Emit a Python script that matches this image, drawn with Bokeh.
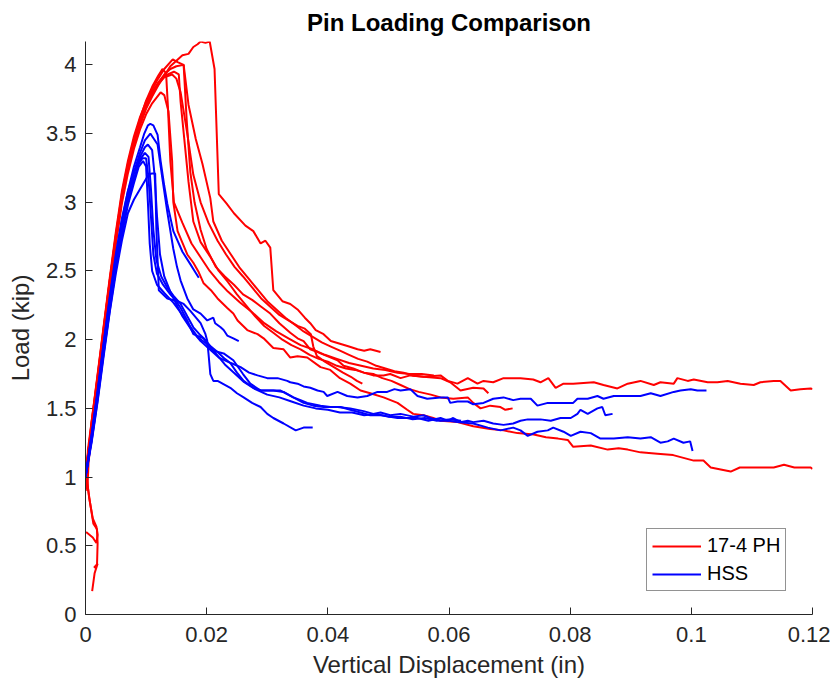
from bokeh.plotting import figure
from bokeh.models import Range1d, FixedTicker, Legend, LegendItem
from bokeh.embed import file_html
from bokeh.resources import INLINE

# ---------------- data ----------------
title_text = "Pin Loading Comparison"
x_label = "Vertical Displacement (in)"
y_label = "Load (kip)"
series_names = ["17-4 PH", "HSS"]

x_ticks = [0, 0.02, 0.04, 0.06, 0.08, 0.1, 0.12]
x_tick_labels = ["0", "0.02", "0.04", "0.06", "0.08", "0.1", "0.12"]
y_ticks = [0, 0.5, 1, 1.5, 2, 2.5, 3, 3.5, 4]
y_tick_labels = ["0", "0.5", "1", "1.5", "2", "2.5", "3", "3.5", "4"]

# 17-4 PH specimens (x in, load kip)
r1 = [(0.0, 1.00), (0.001, 1.36), (0.002, 1.70), (0.003, 2.05), (0.004, 2.40), (0.005, 2.72),
      (0.006, 3.02), (0.007, 3.24), (0.008, 3.42), (0.009, 3.56), (0.010, 3.68), (0.011, 3.77),
      (0.012, 3.85), (0.013, 3.92), (0.014, 3.99), (0.015, 4.03), (0.016, 4.07), (0.017, 4.08),
      (0.0178, 4.13), (0.0185, 4.15), (0.019, 4.17), (0.0198, 4.16), (0.0205, 4.17), (0.0213, 3.97),
      (0.0220, 3.06), (0.0233, 2.99), (0.0245, 2.92), (0.0264, 2.83), (0.0277, 2.79), (0.0289, 2.70),
      (0.0297, 2.72), (0.0305, 2.67), (0.0310, 2.36), (0.0325, 2.28), (0.0338, 2.26), (0.0350, 2.22),
      (0.0362, 2.16), (0.0371, 2.12), (0.0380, 2.07), (0.0393, 2.04), (0.0405, 1.99), (0.0420, 1.97),
      (0.0435, 1.95), (0.0449, 1.93), (0.0460, 1.92), (0.0470, 1.93), (0.0487, 1.91)]

r2 = [(0.0, 1.00), (0.001, 1.40), (0.002, 1.75), (0.003, 2.10), (0.004, 2.45), (0.005, 2.78),
      (0.006, 3.08), (0.007, 3.30), (0.008, 3.48), (0.009, 3.62), (0.010, 3.73), (0.011, 3.82),
      (0.012, 3.90), (0.013, 3.97), (0.0144, 4.04), (0.0152, 4.02), (0.0162, 4.00), (0.0167, 3.60),
      (0.0173, 3.22), (0.0180, 3.00), (0.0190, 2.80), (0.0200, 2.66), (0.0215, 2.53), (0.0230, 2.46),
      (0.0245, 2.40), (0.0260, 2.33), (0.0275, 2.29), (0.0290, 2.24), (0.0305, 2.19), (0.0320, 2.12),
      (0.0338, 2.05), (0.0350, 2.01), (0.0360, 1.99), (0.0371, 1.93), (0.0383, 1.91), (0.0399, 1.88),
      (0.0416, 1.85), (0.0426, 1.81), (0.0442, 1.79), (0.0459, 1.76), (0.0475, 1.74), (0.0492, 1.74),
      (0.0503, 1.75), (0.0520, 1.72), (0.0536, 1.74), (0.0558, 1.73), (0.0586, 1.74), (0.0598, 1.70),
      (0.0614, 1.68), (0.0631, 1.72), (0.0647, 1.68), (0.0657, 1.70), (0.0673, 1.69), (0.0690, 1.72),
      (0.0706, 1.72), (0.0718, 1.72), (0.0739, 1.71), (0.0751, 1.69), (0.0764, 1.72), (0.0776, 1.65),
      (0.0789, 1.68), (0.0805, 1.68), (0.0839, 1.69), (0.0855, 1.67), (0.0878, 1.645), (0.0895, 1.68),
      (0.0916, 1.70), (0.0938, 1.67), (0.0949, 1.69), (0.0971, 1.68), (0.0977, 1.72), (0.0994, 1.70),
      (0.1004, 1.71), (0.1027, 1.69), (0.1043, 1.69), (0.1060, 1.70), (0.1081, 1.68), (0.1103, 1.67),
      (0.1114, 1.69), (0.1136, 1.70), (0.1147, 1.70), (0.1164, 1.63), (0.1180, 1.64), (0.1197, 1.645),
      (0.1200, 1.64)]

r3 = [(0.0, 1.00), (0.001, 1.37), (0.002, 1.71), (0.003, 2.06), (0.004, 2.40), (0.005, 2.73),
      (0.006, 3.03), (0.007, 3.26), (0.008, 3.44), (0.009, 3.58), (0.010, 3.70), (0.011, 3.79),
      (0.012, 3.87), (0.013, 3.93), (0.014, 3.97), (0.0150, 3.99), (0.0162, 4.00), (0.0170, 3.71),
      (0.0182, 3.46), (0.0193, 3.28), (0.0206, 3.03), (0.0211, 2.86), (0.0225, 2.72), (0.0240, 2.62),
      (0.0255, 2.52), (0.0270, 2.44), (0.0285, 2.36), (0.0300, 2.28), (0.0315, 2.22), (0.0330, 2.16),
      (0.0345, 2.11), (0.0360, 2.06), (0.0375, 2.02), (0.0390, 1.98), (0.0405, 1.95), (0.0420, 1.92),
      (0.0435, 1.89), (0.0450, 1.86), (0.0465, 1.84), (0.0480, 1.81), (0.0495, 1.79), (0.0510, 1.77),
      (0.0525, 1.76), (0.0540, 1.74), (0.0558, 1.73), (0.0586, 1.72), (0.0602, 1.69), (0.0619, 1.63),
      (0.0640, 1.65), (0.0657, 1.645), (0.0665, 1.61)]

r4 = [(0.0, 1.00), (0.001, 1.39), (0.002, 1.73), (0.003, 2.08), (0.004, 2.43), (0.005, 2.76),
      (0.006, 3.06), (0.007, 3.28), (0.008, 3.46), (0.009, 3.60), (0.010, 3.71), (0.011, 3.80),
      (0.012, 3.87), (0.013, 3.92), (0.0146, 3.95), (0.0154, 3.93), (0.0157, 3.73), (0.0170, 3.15),
      (0.0178, 2.86), (0.0190, 2.71), (0.0205, 2.61), (0.0220, 2.50), (0.0235, 2.42), (0.0250, 2.33),
      (0.0265, 2.25), (0.0280, 2.17), (0.0295, 2.10), (0.0310, 2.05), (0.0325, 2.00), (0.0340, 1.96),
      (0.0355, 1.93), (0.0370, 1.89), (0.0385, 1.86), (0.0400, 1.84), (0.0415, 1.81), (0.0430, 1.79),
      (0.0445, 1.78), (0.0460, 1.76), (0.0475, 1.75), (0.0490, 1.72), (0.0505, 1.70), (0.0520, 1.67),
      (0.0535, 1.64), (0.0550, 1.62), (0.0570, 1.60), (0.0586, 1.58), (0.0607, 1.57), (0.0631, 1.58),
      (0.0640, 1.54), (0.0652, 1.50), (0.0668, 1.52), (0.0685, 1.51), (0.0693, 1.49), (0.0705, 1.50)]

r5 = [(0.0011, 0.17), (0.0015, 0.30), (0.0020, 0.37), (0.0014, 0.34), (0.0019, 0.36), (0.0020, 0.52),
      (0.0019, 0.62), (0.0013, 0.66), (0.0008, 0.80), (0.0003, 0.95), (0.0001, 1.05), (0.0003, 1.14),
      (0.0010, 1.36), (0.002, 1.70), (0.003, 2.05), (0.004, 2.39), (0.005, 2.72), (0.006, 3.02),
      (0.007, 3.25), (0.008, 3.45), (0.009, 3.61), (0.010, 3.74), (0.011, 3.84), (0.012, 3.92),
      (0.0127, 3.97), (0.0133, 3.94), (0.0136, 3.70), (0.0140, 3.30), (0.0146, 3.00), (0.0160, 2.85),
      (0.0175, 2.70), (0.0190, 2.60), (0.0205, 2.50), (0.0220, 2.42), (0.0235, 2.35), (0.0255, 2.27),
      (0.0275, 2.20), (0.0295, 2.12), (0.0315, 2.06), (0.0335, 2.01), (0.0355, 1.96), (0.0375, 1.93),
      (0.0395, 1.89), (0.0415, 1.86), (0.0435, 1.83), (0.0455, 1.81), (0.0475, 1.79), (0.0495, 1.78),
      (0.0515, 1.76), (0.0535, 1.75), (0.0555, 1.75), (0.0575, 1.74)]

r6 = [(0.0001, 0.60), (0.0012, 0.56), (0.0018, 0.52), (0.0020, 0.58), (0.0018, 0.64), (0.0012, 0.70),
      (0.0006, 0.85), (0.0002, 1.00), (0.0004, 1.20), (0.0010, 1.40), (0.002, 1.74), (0.003, 2.09),
      (0.004, 2.43), (0.005, 2.75), (0.006, 3.04), (0.007, 3.27), (0.008, 3.45), (0.009, 3.59),
      (0.010, 3.71), (0.011, 3.80), (0.012, 3.86), (0.0130, 3.91), (0.0143, 3.93), (0.0150, 3.90),
      (0.0157, 3.80), (0.0168, 3.50), (0.0178, 3.20), (0.0190, 3.00), (0.0203, 2.85), (0.0218, 2.72),
      (0.0232, 2.62), (0.0246, 2.53), (0.0260, 2.46), (0.0275, 2.38), (0.0290, 2.30), (0.0305, 2.24),
      (0.0320, 2.18), (0.0335, 2.14), (0.0350, 2.10), (0.0362, 2.08), (0.0372, 2.04), (0.0376, 1.95),
      (0.0382, 1.88), (0.0395, 1.84), (0.0410, 1.80), (0.0425, 1.76), (0.0438, 1.73), (0.0448, 1.70),
      (0.0457, 1.68)]

r7 = [(0.0, 1.00), (0.0003, 0.90), (0.0005, 1.10), (0.001, 1.34), (0.002, 1.69), (0.003, 2.03),
      (0.004, 2.37), (0.005, 2.69), (0.006, 2.99), (0.007, 3.21), (0.008, 3.39), (0.009, 3.53),
      (0.010, 3.64), (0.011, 3.72), (0.0124, 3.80), (0.0130, 3.78), (0.0137, 3.66), (0.0143, 3.30),
      (0.0145, 3.00), (0.0152, 2.79), (0.0168, 2.62), (0.0178, 2.56), (0.0187, 2.49), (0.0195, 2.41),
      (0.0207, 2.36), (0.0218, 2.30), (0.0234, 2.23), (0.0244, 2.19), (0.0251, 2.14), (0.0267, 2.07),
      (0.0284, 2.04), (0.0294, 2.01), (0.0310, 1.94), (0.0327, 1.93), (0.0338, 1.87), (0.0350, 1.88),
      (0.0366, 1.87), (0.0388, 1.80), (0.0404, 1.78), (0.0420, 1.72), (0.0437, 1.68), (0.0454, 1.63),
      (0.0470, 1.61), (0.0492, 1.58), (0.0515, 1.54), (0.0531, 1.49), (0.0541, 1.46), (0.0558, 1.45),
      (0.0574, 1.43), (0.0586, 1.41), (0.0614, 1.40), (0.0640, 1.37), (0.0668, 1.35), (0.0690, 1.34),
      (0.0713, 1.32), (0.0740, 1.31), (0.0760, 1.29), (0.0780, 1.28), (0.0796, 1.27), (0.0805, 1.22),
      (0.0834, 1.23), (0.0862, 1.20), (0.0880, 1.21), (0.0895, 1.20), (0.0916, 1.18), (0.0944, 1.17),
      (0.0970, 1.16), (0.1004, 1.12), (0.1020, 1.12), (0.1032, 1.07), (0.1065, 1.04), (0.1080, 1.07),
      (0.1110, 1.07), (0.1136, 1.07), (0.1153, 1.09), (0.1170, 1.07), (0.1197, 1.07), (0.1200, 1.06)]

# HSS specimens
b1 = [(0.0, 1.00), (0.001, 1.30), (0.002, 1.62), (0.003, 1.97), (0.004, 2.30), (0.005, 2.60),
      (0.006, 2.86), (0.007, 3.08), (0.008, 3.26), (0.009, 3.40), (0.0097, 3.50), (0.0103, 3.56),
      (0.0107, 3.57), (0.0112, 3.56), (0.0119, 3.49), (0.0124, 3.30), (0.0130, 3.12), (0.0135, 2.99),
      (0.0145, 2.79), (0.0160, 2.64), (0.0173, 2.55), (0.0180, 2.50), (0.0187, 2.45)]

b2 = [(0.0, 1.00), (0.001, 1.28), (0.002, 1.60), (0.003, 1.94), (0.004, 2.26), (0.005, 2.56),
      (0.006, 2.82), (0.007, 3.04), (0.008, 3.22), (0.009, 3.36), (0.0098, 3.45), (0.0107, 3.50),
      (0.0113, 3.46), (0.0119, 3.42), (0.0127, 3.17), (0.0135, 2.93), (0.0145, 2.66), (0.0151, 2.53),
      (0.0157, 2.43), (0.0168, 2.30), (0.0178, 2.22), (0.0190, 2.19), (0.0201, 2.14), (0.0211, 2.16),
      (0.0214, 2.12), (0.0223, 2.09), (0.0228, 2.07), (0.0234, 2.03), (0.0244, 2.01), (0.0253, 1.99)]

b3 = [(0.0, 1.00), (0.001, 1.25), (0.002, 1.55), (0.003, 1.88), (0.004, 2.20), (0.005, 2.48),
      (0.006, 2.72), (0.007, 2.92), (0.0080, 3.02), (0.0088, 3.08), (0.0096, 3.14), (0.0104, 3.20),
      (0.0110, 3.21), (0.0115, 3.21), (0.0117, 2.80), (0.0121, 2.36), (0.0135, 2.30), (0.0152, 2.28),
      (0.0162, 2.26), (0.0173, 2.21), (0.0190, 2.12), (0.0198, 2.04), (0.0201, 1.99), (0.0203, 1.90),
      (0.0206, 1.75), (0.0211, 1.70), (0.0218, 1.70), (0.0239, 1.65), (0.0250, 1.61), (0.0261, 1.58),
      (0.0275, 1.54), (0.0289, 1.51), (0.0300, 1.46), (0.0310, 1.43), (0.0327, 1.39), (0.0347, 1.34),
      (0.0360, 1.36), (0.0375, 1.36)]

b4 = [(0.0, 1.00), (0.001, 1.29), (0.002, 1.61), (0.003, 1.95), (0.004, 2.27), (0.005, 2.57),
      (0.006, 2.83), (0.007, 3.04), (0.008, 3.21), (0.009, 3.33), (0.0098, 3.40), (0.0103, 3.42),
      (0.0110, 3.38), (0.0114, 3.20), (0.0118, 2.90), (0.0123, 2.62), (0.0130, 2.46), (0.0140, 2.35),
      (0.0150, 2.26), (0.0160, 2.17), (0.0175, 2.07), (0.0190, 1.99), (0.0205, 1.93), (0.0220, 1.87),
      (0.0240, 1.83), (0.0256, 1.80), (0.0270, 1.76), (0.0284, 1.74), (0.0300, 1.72), (0.0317, 1.72),
      (0.0333, 1.70), (0.0338, 1.69), (0.0350, 1.68), (0.0360, 1.66), (0.0371, 1.65), (0.0383, 1.63),
      (0.0393, 1.62), (0.0399, 1.59), (0.0416, 1.62), (0.0432, 1.59), (0.0449, 1.58), (0.0465, 1.59),
      (0.0482, 1.62), (0.0498, 1.62), (0.0510, 1.64), (0.0520, 1.63), (0.0536, 1.64), (0.0548, 1.59),
      (0.0564, 1.57), (0.0586, 1.58), (0.0598, 1.58), (0.0602, 1.54), (0.0614, 1.55), (0.0631, 1.55),
      (0.0640, 1.53), (0.0657, 1.54), (0.0673, 1.57), (0.0690, 1.58), (0.0706, 1.56), (0.0718, 1.57),
      (0.0735, 1.57), (0.0746, 1.52), (0.0763, 1.54), (0.0779, 1.54), (0.0796, 1.54), (0.0805, 1.54),
      (0.0812, 1.57), (0.0829, 1.57), (0.0845, 1.59), (0.0855, 1.57), (0.0872, 1.59), (0.0895, 1.59),
      (0.0916, 1.59), (0.0933, 1.61), (0.0949, 1.59), (0.0971, 1.62), (0.0982, 1.63), (0.0999, 1.64),
      (0.1010, 1.63), (0.1020, 1.63), (0.1025, 1.63)]

b5 = [(0.0, 1.00), (0.001, 1.31), (0.002, 1.63), (0.003, 1.98), (0.004, 2.31), (0.005, 2.62),
      (0.006, 2.88), (0.007, 3.08), (0.008, 3.22), (0.009, 3.31), (0.0098, 3.36), (0.0104, 3.33),
      (0.0108, 3.10), (0.0112, 2.80), (0.0117, 2.58), (0.0125, 2.46), (0.0135, 2.38), (0.0145, 2.32),
      (0.0157, 2.26), (0.0168, 2.17), (0.0178, 2.09), (0.0188, 2.04), (0.0195, 2.01), (0.0207, 1.95),
      (0.0218, 1.91), (0.0230, 1.86), (0.0239, 1.83), (0.0250, 1.76), (0.0261, 1.70), (0.0277, 1.65),
      (0.0290, 1.63), (0.0300, 1.63), (0.0322, 1.63), (0.0343, 1.58), (0.0355, 1.56), (0.0366, 1.54),
      (0.0388, 1.52), (0.0404, 1.51), (0.0421, 1.51), (0.0437, 1.49), (0.0454, 1.47), (0.0470, 1.45),
      (0.0487, 1.45), (0.0500, 1.44), (0.0515, 1.43), (0.0530, 1.43), (0.0548, 1.43), (0.0566, 1.41),
      (0.0586, 1.43), (0.0598, 1.41), (0.0607, 1.43), (0.0619, 1.40), (0.0631, 1.41), (0.0640, 1.40),
      (0.0657, 1.41), (0.0673, 1.39), (0.0690, 1.38), (0.0706, 1.39), (0.0718, 1.41), (0.0730, 1.42),
      (0.0751, 1.42), (0.0768, 1.41), (0.0784, 1.43), (0.0801, 1.43), (0.0812, 1.46), (0.0817, 1.49),
      (0.0829, 1.46), (0.0845, 1.50), (0.0853, 1.51), (0.0858, 1.45), (0.0870, 1.46)]

b6 = [(0.0, 1.00), (0.001, 1.27), (0.002, 1.58), (0.003, 1.91), (0.004, 2.23), (0.005, 2.53),
      (0.006, 2.79), (0.007, 3.00), (0.008, 3.17), (0.0088, 3.28), (0.0094, 3.32), (0.0100, 3.32),
      (0.0104, 3.18), (0.0108, 2.90), (0.0112, 2.62), (0.0118, 2.48), (0.0128, 2.40), (0.0140, 2.33),
      (0.0150, 2.28), (0.0157, 2.23), (0.0168, 2.14), (0.0178, 2.04), (0.0195, 2.01), (0.0211, 1.92),
      (0.0228, 1.90), (0.0244, 1.85), (0.0260, 1.75), (0.0272, 1.68), (0.0289, 1.63), (0.0310, 1.63),
      (0.0327, 1.62), (0.0343, 1.58), (0.0360, 1.54), (0.0376, 1.52), (0.0393, 1.51), (0.0416, 1.51),
      (0.0437, 1.50), (0.0459, 1.48), (0.0475, 1.46), (0.0487, 1.47), (0.0503, 1.45), (0.0520, 1.46),
      (0.0541, 1.44), (0.0558, 1.45), (0.0569, 1.43), (0.0586, 1.41), (0.0600, 1.41), (0.0614, 1.40),
      (0.0640, 1.39), (0.0664, 1.36), (0.0685, 1.34), (0.0706, 1.36), (0.0718, 1.34), (0.0730, 1.30),
      (0.0746, 1.33), (0.0763, 1.34), (0.0772, 1.36), (0.0789, 1.33), (0.0801, 1.30), (0.0817, 1.33),
      (0.0834, 1.32), (0.0850, 1.28), (0.0872, 1.28), (0.0895, 1.29), (0.0916, 1.28), (0.0933, 1.29),
      (0.0949, 1.25), (0.0961, 1.26), (0.0971, 1.28), (0.0987, 1.25), (0.0998, 1.26), (0.1002, 1.19)]

b7 = [(0.0, 1.00), (0.001, 1.26), (0.002, 1.56), (0.003, 1.90), (0.004, 2.21), (0.005, 2.51),
      (0.006, 2.76), (0.007, 2.98), (0.008, 3.14), (0.0088, 3.26), (0.0095, 3.30), (0.0100, 3.26),
      (0.0103, 3.00), (0.0106, 2.70), (0.0110, 2.50), (0.0118, 2.40), (0.0130, 2.34), (0.0145, 2.27),
      (0.0160, 2.18), (0.0172, 2.10), (0.0185, 2.02), (0.0200, 1.97), (0.0215, 1.90), (0.0230, 1.82),
      (0.0245, 1.76), (0.0262, 1.69), (0.0280, 1.64), (0.0300, 1.60), (0.0320, 1.58), (0.0340, 1.55),
      (0.0360, 1.52), (0.0380, 1.50), (0.0400, 1.49), (0.0420, 1.47), (0.0440, 1.47), (0.0460, 1.45),
      (0.0480, 1.46), (0.0500, 1.44), (0.0520, 1.44), (0.0540, 1.42), (0.0560, 1.43), (0.0580, 1.41),
      (0.0600, 1.42), (0.0620, 1.41)]

red_curves = [r1, r2, r3, r4, r5, r6, r7]
blue_curves = [b1, b2, b3, b4, b5, b6, b7]

# ---------------- figure ----------------
FONT = "Liberation Sans"
INK = "#262626"

p = figure(width=830, height=680, output_backend="svg", toolbar_location=None,
           x_range=Range1d(0, 0.12), y_range=Range1d(0, 4.17),
           min_border_left=85, min_border_right=18, min_border_top=39, min_border_bottom=65,
           title=title_text)
p.title.align = "center"
p.title.text_font = FONT
p.title.text_font_size = "24px"
p.title.text_font_style = "bold"
p.title.text_color = "black"
p.title.text_line_height = 0.8
p.title.standoff = 12
p.outline_line_color = None
p.grid.visible = False
p.background_fill_color = "white"
p.border_fill_color = "white"

p.xaxis.ticker = FixedTicker(ticks=x_ticks)
p.yaxis.ticker = FixedTicker(ticks=y_ticks)
p.xaxis.major_label_overrides = dict(zip(x_ticks, x_tick_labels))
p.yaxis.major_label_overrides = dict(zip(y_ticks, y_tick_labels))
p.xaxis.axis_label = x_label
p.yaxis.axis_label = y_label

for ax in (p.xaxis[0], p.yaxis[0]):
    ax.axis_line_color = INK
    ax.axis_line_width = 1
    ax.major_tick_line_color = INK
    ax.major_tick_in = 7
    ax.major_tick_out = 0
    ax.minor_tick_line_color = None
    ax.major_label_text_font = FONT
    ax.major_label_text_font_size = "22px"
    ax.major_label_text_color = INK
    ax.axis_label_text_font = FONT
    ax.axis_label_text_font_size = "24px"
    ax.axis_label_text_font_style = "normal"
    ax.axis_label_text_color = INK

p.xaxis.major_label_standoff = 12
p.yaxis.major_label_standoff = 9
p.xaxis.axis_label_standoff = 6
p.yaxis.axis_label_standoff = 9

red_r = []
for c in red_curves:
    xs = [pt[0] for pt in c]
    ys = [pt[1] for pt in c]
    red_r.append(p.line(xs, ys, line_color="#ff0000", line_width=2))

blue_r = []
for c in blue_curves:
    xs = [pt[0] for pt in c]
    ys = [pt[1] for pt in c]
    blue_r.append(p.line(xs, ys, line_color="#0000ff", line_width=2))

legend = Legend(items=[LegendItem(label=series_names[0], renderers=[red_r[0]]),
                       LegendItem(label=series_names[1], renderers=[blue_r[0]])],
                location=(561, 23))
legend.border_line_color = INK
legend.border_line_width = 1
legend.background_fill_color = "white"
legend.background_fill_alpha = 1
legend.label_text_font = FONT
legend.label_text_font_size = "20px"
legend.label_text_color = "black"
legend.glyph_width = 49
legend.glyph_height = 20
legend.label_height = 20
legend.label_standoff = 6
legend.padding = 5
legend.spacing = 5
legend.margin = 0
p.add_layout(legend, "center")

open("out.html", "w").write(file_html(p, INLINE))
